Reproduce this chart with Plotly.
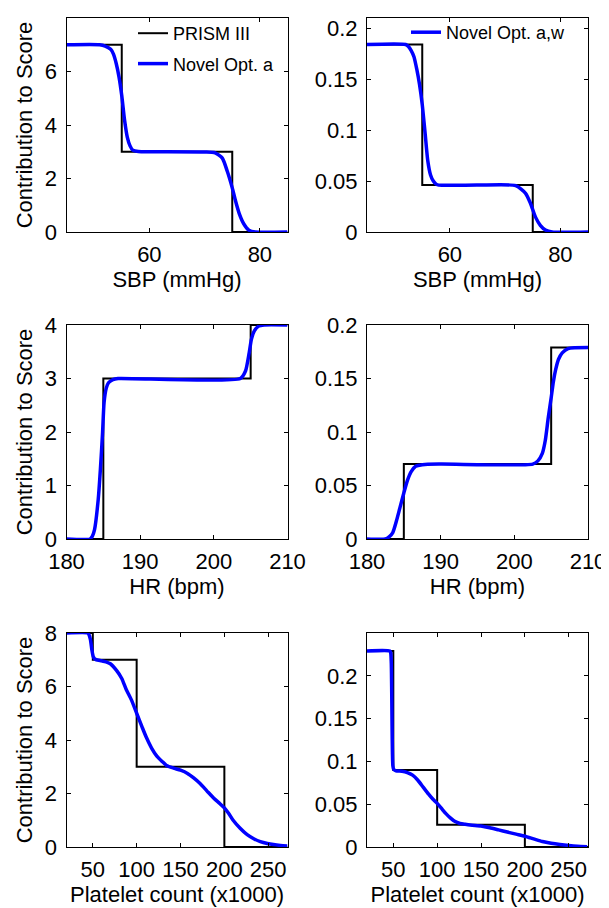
import plotly.graph_objects as go

# ---------------- data ----------------
# PRISM III step functions (value holds until next breakpoint)
sbp_step_x = [45, 55, 75, 85]
sbp_step_y_a = [7, 3, 0, 0]
sbp_step_y_w = [0.184, 0.046, 0, 0]

hr_step_x = [180, 185, 205, 210]
hr_step_y_a = [0, 3, 4, 4]
hr_step_y_w = [0, 0.07, 0.179, 0.179]

plt_step_x = [20, 50, 100, 200, 272]
plt_step_y_a = [8, 7, 3, 0, 0]
plt_step_y_w = [0.229, 0.09, 0.026, 0, 0]

# Novel smooth curves
sbp_x_a = [45, 51, 52, 53, 53.5, 54, 54.5, 55, 55.5, 56, 56.5, 57, 58, 60, 70, 71.9,
           73.2, 74.1, 75, 75.6, 76.3, 77.1, 78, 79.2, 85]
sbp_y_a = [7.0, 7.0, 6.95, 6.83, 6.65, 6.3, 5.8, 5.1, 4.2, 3.55, 3.22, 3.06, 3.01, 3.0, 2.99, 2.96,
           2.76, 2.27, 1.65, 1.16, 0.67, 0.3, 0.07, 0.0, 0.0]

sbp_x_w = [45, 52, 52.5, 53, 53.5, 54, 54.5, 55, 55.5, 56, 56.5, 57, 57.5, 58, 65, 71.9,
           73.7, 74.6, 75.5, 76.4, 77.3, 78.5, 85]
sbp_y_w = [0.184, 0.184, 0.182, 0.178, 0.172, 0.16, 0.145, 0.125, 0.098, 0.07, 0.056, 0.05, 0.047, 0.046, 0.046, 0.0455,
           0.038, 0.028, 0.0146, 0.0063, 0.002, 0.0, 0.0]

hr_x_a = [180, 183.2, 183.5, 183.8, 184.3, 184.6, 184.9, 185.1, 185.4, 185.7, 186.3, 187, 203.6,
          204.3, 204.8, 205.1, 205.5, 206.1, 206.8, 210]
hr_y_a = [0, 0, 0.05, 0.17, 0.73, 1.3, 2.0, 2.55, 2.82, 2.92, 2.98, 3.0, 3.0,
          3.14, 3.48, 3.73, 3.89, 3.98, 4.0, 4.0]

hr_x_w = [180, 182.5, 183, 183.5, 184, 184.5, 185, 185.5, 186, 186.6, 187.5, 190, 202.5,
          203.2, 203.8, 204.2, 204.6, 205, 205.3, 205.6, 206, 206.5, 207.3, 210]
hr_y_w = [0, 0, 0.002, 0.006, 0.017, 0.030, 0.043, 0.055, 0.063, 0.068, 0.0695, 0.07, 0.07,
          0.073, 0.08, 0.092, 0.113, 0.132, 0.147, 0.158, 0.168, 0.174, 0.178, 0.179]

plt_x_a = [20, 44, 45.5, 47.3, 48.9, 50.4, 52, 54, 60, 65, 70, 77, 83, 88, 94, 100, 106, 111, 117,
           123, 129, 134, 142, 150, 158, 165, 172, 180, 188, 195, 200, 205, 210, 218, 226, 234,
           241, 249, 256, 264, 272]
plt_y_a = [8, 8, 7.95, 7.75, 7.38, 7.13, 7.04, 7.0, 6.96, 6.92, 6.85, 6.6, 6.3, 5.9, 5.5, 5.0, 4.5, 4.1, 3.7,
           3.4, 3.2, 3.05, 2.95, 2.87, 2.75, 2.58, 2.38, 2.1, 1.82, 1.62, 1.46, 1.25, 1.0, 0.7, 0.46, 0.3,
           0.2, 0.13, 0.09, 0.06, 0.04]

plt_x_w = [20, 46, 47, 47.7, 48.2, 48.6, 49, 49.5, 50.5, 53, 60, 66, 72, 78, 84, 90, 95, 100, 105,
           110, 115, 120, 126, 132, 140, 150, 160, 170, 180, 190, 200, 210, 220, 230, 240, 250,
           260, 271]
plt_y_w = [0.229, 0.229, 0.227, 0.215, 0.18, 0.14, 0.11, 0.095, 0.0905, 0.089, 0.0885, 0.087, 0.084, 0.078,
           0.07, 0.062, 0.056, 0.051, 0.045, 0.039, 0.034, 0.030, 0.0275, 0.0265, 0.0255, 0.0245, 0.0225,
           0.0200, 0.0175, 0.0150, 0.0125, 0.0095, 0.0065, 0.0045, 0.003, 0.0018, 0.0009, 0.0004]

# ticks / labels
sbp_ticks = [60, 80]
hr_ticks = [180, 190, 200, 210]
plt_ticks = [50, 100, 150, 200, 250]
score_ticks_8 = [0, 2, 4, 6, 8]
score_ticks_4 = [0, 1, 2, 3, 4]
w_ticks = [0, 0.05, 0.1, 0.15, 0.2]
w_tick_text = ["0", "0.05", "0.1", "0.15", "0.2"]

x_titles = ["SBP (mmHg)", "SBP (mmHg)", "HR (bpm)", "HR (bpm)",
            "Platelet count (x1000)", "Platelet count (x1000)"]
y_title = "Contribution to Score"

# ---------------- figure ----------------
# the page body adds an 8px margin, so the figure is drawn 8px smaller and
# positions below are given in window pixels minus that offset
OFF = 8
W, H = 609 - OFF, 908 - OFF
FONT = "Liberation Sans, Arial, Helvetica, sans-serif"
BLUE = "#0000ff"

col_px = [(66.5, 287.5), (367, 588)]
row_px = [(18, 232), (325, 539), (633, 847)]

def xdom(c):
    a, b = col_px[c]
    return [(a - OFF) / W, (b - OFF) / W]

def ydom(r):
    a, b = row_px[r]
    return [1 - (b - OFF) / H, 1 - (a - OFF) / H]

fig = go.Figure()

panels = [
    dict(sx=sbp_step_x, sy=sbp_step_y_a, nx=sbp_x_a, ny=sbp_y_a, name="Novel Opt. a", legend="legend"),
    dict(sx=sbp_step_x, sy=sbp_step_y_w, nx=sbp_x_w, ny=sbp_y_w, name="Novel Opt. a,w", legend="legend2"),
    dict(sx=hr_step_x, sy=hr_step_y_a, nx=hr_x_a, ny=hr_y_a, name=None),
    dict(sx=hr_step_x, sy=hr_step_y_w, nx=hr_x_w, ny=hr_y_w, name=None),
    dict(sx=plt_step_x, sy=plt_step_y_a, nx=plt_x_a, ny=plt_y_a, name=None),
    dict(sx=plt_step_x, sy=plt_step_y_w, nx=plt_x_w, ny=plt_y_w, name=None),
]

for i, p in enumerate(panels):
    k = "" if i == 0 else str(i + 1)
    show_step_leg = (i == 0)
    show_novel_leg = i in (0, 1)
    fig.add_trace(go.Scatter(
        x=p["sx"], y=p["sy"], mode="lines", line=dict(color="black", width=2, shape="hv"),
        name="PRISM III", showlegend=show_step_leg, legendgroup="g1",
        legend="legend", xaxis="x" + k, yaxis="y" + k, hoverinfo="skip"))
    fig.add_trace(go.Scatter(
        x=p["nx"], y=p["ny"], mode="lines",
        line=dict(color=BLUE, width=3.5, shape="spline", smoothing=0.6),
        name=p["name"] if p["name"] else "", showlegend=show_novel_leg,
        legendgroup="g2" if i == 0 else "g3",
        legend=p.get("legend", "legend"), xaxis="x" + k, yaxis="y" + k, hoverinfo="skip"))

axis_common = dict(
    showline=True, linecolor="black", linewidth=1, mirror="ticks",
    ticks="inside", ticklen=4, tickwidth=1, tickcolor="black",
    showgrid=False, zeroline=False, automargin=False,
    tickfont=dict(family=FONT, size=22, color="black"),
)

xranges = [[45, 85], [45, 85], [180, 210], [180, 210], [20, 272], [20, 272]]
xticks = [sbp_ticks, sbp_ticks, hr_ticks, hr_ticks, plt_ticks, plt_ticks]
yranges = [[0, 8], [0, 0.21], [0, 4], [0, 0.2], [0, 8], [0, 0.25]]
yticks = [score_ticks_8, w_ticks, score_ticks_4, w_ticks, score_ticks_8, w_ticks]

layout_axes = {}
for i in range(6):
    r, c = divmod(i, 2)
    k = "" if i == 0 else str(i + 1)
    xa = dict(axis_common)
    xa.update(domain=xdom(c), range=xranges[i], tickvals=xticks[i],
              anchor="y" + k, ticklabelstandoff=3,
              title=dict(text=x_titles[i], font=dict(family=FONT, size=22, color="black"), standoff=5))
    ya = dict(axis_common)
    ytext = w_tick_text if c == 1 else [str(v) for v in yticks[i]]
    ya.update(domain=ydom(r), range=yranges[i], tickvals=yticks[i], ticktext=ytext,
              anchor="x" + k, ticklabelstandoff=4)
    if c == 0:
        ya.update(title=dict(text=y_title, font=dict(family=FONT, size=22, color="black"), standoff=6))
    layout_axes["xaxis" + k] = xa
    layout_axes["yaxis" + k] = ya

fig.update_layout(**layout_axes)

fig.update_layout(
    width=W, height=H,
    margin=dict(l=0, r=0, t=0, b=0),
    paper_bgcolor="white", plot_bgcolor="white",
    font=dict(family=FONT, size=18, color="black"),
    showlegend=True,
    legend=dict(x=(133 - OFF) / W, y=1 - (15 - OFF) / H, xanchor="left", yanchor="top",
                bgcolor="rgba(0,0,0,0)", borderwidth=0, tracegroupgap=4,
                font=dict(family=FONT, size=18, color="black"), itemwidth=30,
                traceorder="grouped"),
    legend2=dict(x=(406 - OFF) / W, y=1 - (14 - OFF) / H, xanchor="left", yanchor="top",
                 bgcolor="rgba(0,0,0,0)", borderwidth=0,
                 font=dict(family=FONT, size=18, color="black"), itemwidth=30),
)

fig.write_html("out.html")
